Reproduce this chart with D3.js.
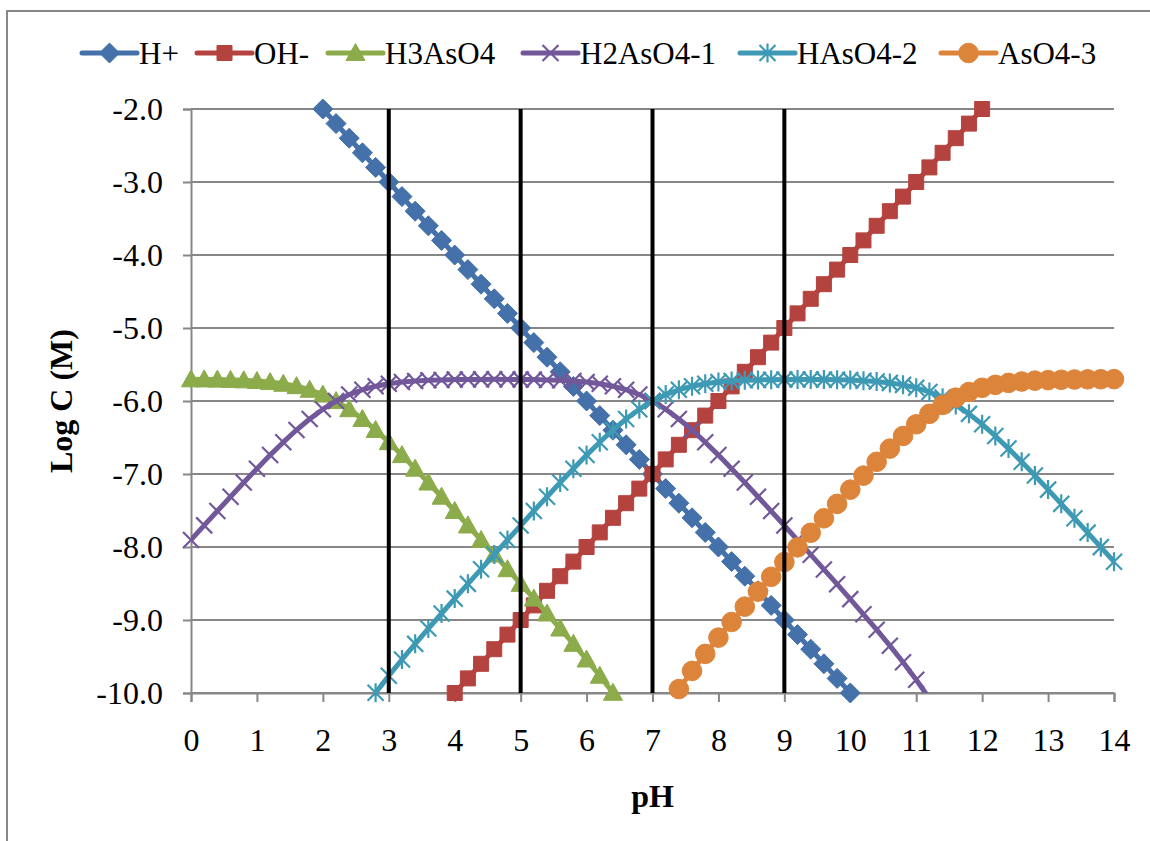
<!DOCTYPE html>
<html>
<head>
<meta charset="utf-8">
<script src="https://cdn.jsdelivr.net/npm/d3@7"></script>
<style>
  html, body { margin: 0; padding: 0; background: #ffffff; }
  svg { display: block; }
  text { font-family: "Liberation Serif", "Times New Roman", serif; }
</style>
</head>
<body>
<svg id="chart" width="1150" height="841"></svg>
<script>
// pH grid shared by all series (step 0.2)
const pH = [0, 0.2, 0.4, 0.6, 0.8, 1, 1.2, 1.4, 1.6, 1.8, 2, 2.2, 2.4, 2.6, 2.8, 3, 3.2, 3.4, 3.6, 3.8,
  4, 4.2, 4.4, 4.6, 4.8, 5, 5.2, 5.4, 5.6, 5.8, 6, 6.2, 6.4, 6.6, 6.8, 7, 7.2, 7.4, 7.6, 7.8,
  8, 8.2, 8.4, 8.6, 8.8, 9, 9.2, 9.4, 9.6, 9.8, 10, 10.2, 10.4, 10.6, 10.8, 11, 11.2, 11.4, 11.6, 11.8,
  12, 12.2, 12.4, 12.6, 12.8, 13, 13.2, 13.4, 13.6, 13.8, 14];

// log concentrations (M); each series starts at the pH given in seriesStartPH
const logHplus = [-2, -2.2, -2.4, -2.6, -2.8, -3, -3.2, -3.4, -3.6, -3.8, -4, -4.2, -4.4, -4.6, -4.8,
  -5, -5.2, -5.4, -5.6, -5.8, -6, -6.2, -6.4, -6.6, -6.8, -7, -7.2, -7.4, -7.6, -7.8, -8, -8.2,
  -8.4, -8.6, -8.8, -9, -9.2, -9.4, -9.6, -9.8, -10];
const logOHminus = [-10, -9.8, -9.6, -9.4, -9.2, -9, -8.8, -8.6, -8.4, -8.2, -8, -7.8, -7.6, -7.4, -7.2,
  -7, -6.8, -6.6, -6.4, -6.2, -6, -5.8, -5.6, -5.4, -5.2, -5, -4.8, -4.6, -4.4, -4.2, -4, -3.8,
  -3.6, -3.4, -3.2, -3, -2.8, -2.6, -2.4, -2.2, -2];
const logH3AsO4 = [-5.703, -5.704, -5.707, -5.711, -5.717, -5.727, -5.741, -5.764, -5.797, -5.846,
  -5.912, -6.001, -6.112, -6.246, -6.397, -6.564, -6.741, -6.927, -7.117, -7.311, -7.507, -7.705,
  -7.904, -8.103, -8.304, -8.505, -8.707, -8.911, -9.117, -9.327, -9.541, -9.764, -9.997];
const logH2AsO4 = [-7.903, -7.704, -7.507, -7.311, -7.117, -6.927, -6.741, -6.564, -6.397, -6.246,
  -6.112, -6.001, -5.912, -5.846, -5.797, -5.764, -5.741, -5.727, -5.717, -5.711, -5.707, -5.705,
  -5.704, -5.703, -5.704, -5.705, -5.707, -5.711, -5.717, -5.727, -5.741, -5.764, -5.797, -5.846,
  -5.912, -6.001, -6.112, -6.246, -6.397, -6.564, -6.741, -6.927, -7.117, -7.311, -7.508, -7.706,
  -7.905, -8.105, -8.307, -8.509, -8.714, -8.922, -9.133, -9.352, -9.579, -9.819, -10.076];
const logHAsO4 = [-9.997, -9.764, -9.541, -9.327, -9.117, -8.911, -8.707, -8.505, -8.304, -8.103,
  -7.904, -7.705, -7.507, -7.311, -7.117, -6.927, -6.741, -6.564, -6.397, -6.246, -6.112, -6.001,
  -5.912, -5.846, -5.797, -5.764, -5.741, -5.727, -5.717, -5.711, -5.708, -5.706, -5.705, -5.705,
  -5.707, -5.709, -5.714, -5.722, -5.733, -5.752, -5.779, -5.819, -5.876, -5.954, -6.054, -6.176,
  -6.319, -6.479, -6.652, -6.833, -7.021, -7.214, -7.409, -7.605, -7.803, -8.002, -8.201];
const logAsO4 = [-9.946, -9.697, -9.464, -9.241, -9.027, -8.817, -8.611, -8.408, -8.206, -8.005,
  -7.805, -7.607, -7.409, -7.214, -7.022, -6.833, -6.652, -6.479, -6.319, -6.176, -6.054, -5.954,
  -5.876, -5.819, -5.779, -5.752, -5.733, -5.721, -5.714, -5.709, -5.705, -5.703, -5.702, -5.701];

const seriesNames = ["H+", "OH-", "H3AsO4", "H2AsO4-1", "HAsO4-2", "AsO4-3"];
const seriesValues = [logHplus, logOHminus, logH3AsO4, logH2AsO4, logHAsO4, logAsO4];
const seriesStartPH = [2, 4, 0, 0, 2.8, 7.4];
const seriesColors = ["#4471a9", "#b4433f", "#8cab4a", "#72589a", "#3e9ab4", "#dd843b"];
const seriesMarkers = ["diamond", "square", "triangle", "x", "star", "circle"];

// reference pH lines
const markerPH = [3, 5, 7, 9];

const xTicks = [0, 1, 2, 3, 4, 5, 6, 7, 8, 9, 10, 11, 12, 13, 14];
const yTicks = [-2, -3, -4, -5, -6, -7, -8, -9, -10];

const svg = d3.select("#chart");
const gray = "#878787";

// chart frame
svg.append("rect")
  .attr("x", 7).attr("y", 11).attr("width", 1200).attr("height", 900)
  .attr("fill", "#ffffff").attr("stroke", gray).attr("stroke-width", 2);

const x = d3.scaleLinear().domain([0, 14]).range([191, 1114]);
const y = d3.scaleLinear().domain([-10, -2]).range([693, 109]);

// gridlines
svg.append("g").selectAll("line").data(yTicks).join("line")
  .attr("x1", x(0)).attr("x2", x(14))
  .attr("y1", d => y(d)).attr("y2", d => y(d))
  .attr("stroke", gray).attr("stroke-width", 2);

// axes
const yAxis = svg.append("g").attr("transform", `translate(${x(0)},0)`)
  .call(d3.axisLeft(y).tickValues(yTicks).tickSize(8).tickPadding(20)
    .tickFormat(d => d.toFixed(1)));
const xAxis = svg.append("g").attr("transform", `translate(0,${y(-10)})`)
  .call(d3.axisBottom(x).tickValues(xTicks).tickSize(9).tickPadding(26)
    .tickFormat(d => String(d)));
[yAxis, xAxis].forEach(g => {
  g.select(".domain").attr("stroke", gray).attr("stroke-width", 2);
  g.selectAll(".tick line").attr("stroke", gray).attr("stroke-width", 2);
  g.selectAll(".tick text").attr("fill", "#000").style("font-size", "32px")
    .style("font-family", '"Liberation Serif", "Times New Roman", serif');
});

// axis titles
svg.append("text")
  .attr("transform", "translate(72,401) rotate(-90)")
  .attr("text-anchor", "middle")
  .style("font-size", "32px").style("font-weight", "bold")
  .text("Log C (M)");
svg.append("text")
  .attr("x", x(7)).attr("y", 807)
  .attr("text-anchor", "middle")
  .style("font-size", "32px").style("font-weight", "bold")
  .text("pH");

// clip for the connecting lines
svg.append("clipPath").attr("id", "plotClip")
  .append("rect").attr("x", x(0)).attr("y", y(-2) - 3)
  .attr("width", x(14) - x(0)).attr("height", y(-10) - y(-2) + 3);

function markerPath(kind) {
  switch (kind) {
    case "diamond": return "M0,-10L10,0L0,10L-10,0Z";
    case "square": return "M-7.5,-7.5H7.5V7.5H-7.5Z";
    case "triangle": return "M0,-9.5L9.5,7.5H-9.5Z";
    case "circle": return d3.symbol(d3.symbolCircle, Math.PI * 9.8 * 9.8)();
    case "x": return "M-8,-8L8,8M-8,8L8,-8";
    case "star": return "M-8,-8L8,8M-8,8L8,-8M0,-9.5V9.5";
  }
}
function drawMarker(g, kind, color) {
  const open = kind === "x" || kind === "star";
  g.append("path").attr("d", markerPath(kind))
    .attr("fill", open ? "none" : color)
    .attr("stroke", color)
    .attr("stroke-width", open ? 2.2 : 1);
}

const line = d3.line().x(d => x(d[0])).y(d => y(d[1]));
const plot = svg.append("g");

seriesNames.forEach((name, i) => {
  const start = pH.indexOf(seriesStartPH[i]);
  const pts = seriesValues[i].map((v, k) => [pH[start + k], v]);
  const g = plot.append("g");
  g.append("path").datum(pts)
    .attr("d", line).attr("fill", "none")
    .attr("stroke", seriesColors[i]).attr("stroke-width", 5)
    .attr("stroke-linejoin", "round")
    .attr("clip-path", "url(#plotClip)");
  // markers only for points inside the value axis range
  pts.filter(p => p[1] >= -10.005).forEach(p => {
    const m = g.append("g").attr("transform", `translate(${x(p[0])},${y(p[1])})`);
    drawMarker(m, seriesMarkers[i], seriesColors[i]);
  });
});

// vertical reference lines
svg.append("g").selectAll("line").data(markerPH).join("line")
  .attr("x1", d => x(d)).attr("x2", d => x(d))
  .attr("y1", y(-2)).attr("y2", y(-10))
  .attr("stroke", "#000").attr("stroke-width", 4);

// legend
const legendX = [82, 197, 328, 523, 740, 941];
const legend = svg.append("g");
seriesNames.forEach((name, i) => {
  const g = legend.append("g").attr("transform", `translate(${legendX[i]},53)`);
  g.append("line").attr("x1", 0).attr("x2", 55).attr("y1", 0).attr("y2", 0)
    .attr("stroke", seriesColors[i]).attr("stroke-width", 5).attr("stroke-linecap", "round");
  drawMarker(g.append("g").attr("transform", "translate(27.5,0)"), seriesMarkers[i], seriesColors[i]);
  g.append("text").attr("x", 57).attr("y", 11)
    .style("font-size", "31px").text(name);
});
</script>
</body>
</html>
